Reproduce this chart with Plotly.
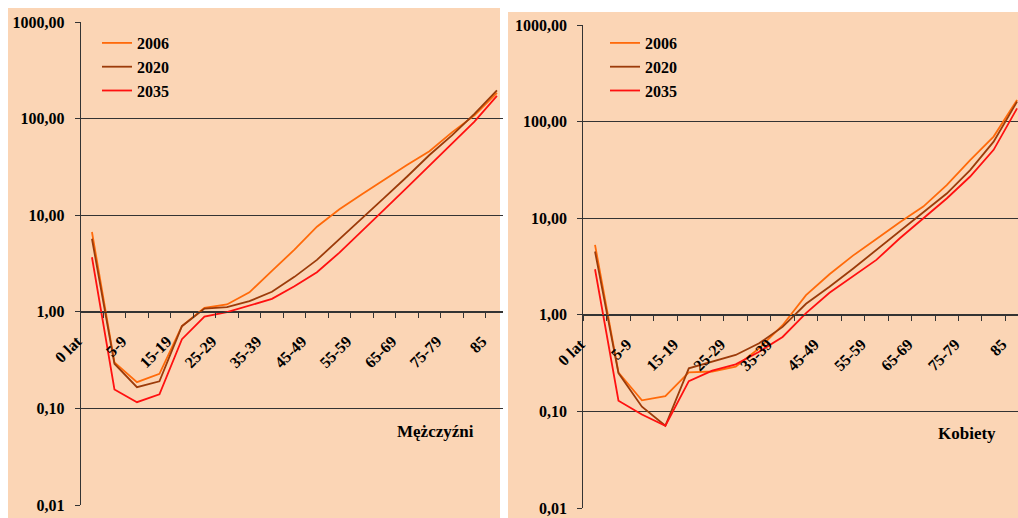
import plotly.graph_objects as go

W, H = 1018, 518

age_groups = ["0 lat", "1-4", "5-9", "10-14", "15-19", "20-24", "25-29", "30-34",
              "35-39", "40-44", "45-49", "50-54", "55-59", "60-64", "65-69",
              "70-74", "75-79", "80-84", "85"]
# every second age group carries a printed label
age_labels = [a if i % 2 == 0 else "" for i, a in enumerate(age_groups)]

years = ["2006", "2020", "2035"]
year_colors = ["#FF6A0A", "#9C3B0A", "#FF1010"]

# death rates per age group, men
men_2006 = [6.7, 0.30, 0.187, 0.228, 0.71, 1.10, 1.19, 1.59, 2.65, 4.4, 7.6,
            11.5, 16.5, 23.5, 33.0, 46.0, 72.0, 108.0, 185.0]
men_2020 = [5.7, 0.29, 0.166, 0.191, 0.71, 1.08, 1.12, 1.29, 1.61, 2.30, 3.45,
            5.7, 9.4, 15.2, 25.0, 42.0, 67.0, 112.0, 196.0]
men_2035 = [3.67, 0.157, 0.116, 0.140, 0.52, 0.89, 0.99, 1.16, 1.36, 1.84, 2.57,
            4.1, 6.8, 11.5, 19.3, 32.6, 55.0, 93.0, 172.0]

# death rates per age group, women
women_2006 = [5.3, 0.253, 0.130, 0.144, 0.253, 0.259, 0.29, 0.45, 0.78, 1.6, 2.63,
              4.1, 6.1, 9.1, 13.2, 22.0, 40.0, 70.0, 167.0]
women_2020 = [4.52, 0.249, 0.112, 0.071, 0.279, 0.327, 0.384, 0.507, 0.75, 1.30, 1.95,
              3.0, 4.7, 7.4, 11.5, 18.0, 31.5, 62.0, 161.0]
women_2035 = [2.96, 0.129, 0.093, 0.071, 0.206, 0.264, 0.307, 0.415, 0.59, 1.04, 1.69,
              2.52, 3.7, 6.2, 10.0, 16.0, 27.0, 51.0, 137.0]

y_ticks = [0.01, 0.1, 1, 10, 100, 1000]
y_tick_text = ["0,01", "0,10", "1,00", "10,00", "100,00", "1000,00"]

panel_titles = ["Mężczyźni", "Kobiety"]

PEACH = "#FBD5B5"
GRID = "#333333"
FONT = "Liberation Serif"

fig = go.Figure()

series = [(men_2006, men_2020, men_2035), (women_2006, women_2020, women_2035)]
for p, vals in enumerate(series):
    xa = "x" if p == 0 else "x2"
    ya = "y" if p == 0 else "y2"
    lg = "legend" if p == 0 else "legend2"
    for name, col, v in zip(years, year_colors, vals):
        fig.add_trace(go.Scatter(
            x=age_groups, y=v, name=name, mode="lines",
            line=dict(color=col, width=1.8),
            xaxis=xa, yaxis=ya, legend=lg, showlegend=True,
        ))

# panel geometry in pixels
left_x = (80.7, 503.0)
right_x = (583.3, 1018.0)
left_y = (22.0, 505.0)     # top / bottom of the log range
right_y = (25.0, 508.0)


def px_x(v):
    return v / W


def px_y(v):
    return 1 - v / H


def xaxis_cfg(domain, y_dom, rng):
    # category axis drawn across the 1,00 level of the log scale
    pos = y_dom[0] + (y_dom[1] - y_dom[0]) * 0.4
    return dict(
        domain=domain, type="category", categoryorder="array",
        categoryarray=age_groups, range=rng,
        tickmode="array", tickvals=age_groups, ticktext=age_labels,
        tickson="boundaries", ticks="outside", ticklen=5, tickcolor=GRID,
        tickangle=-45, ticklabelstandoff=13, ticklabelshift=-15,
        showgrid=False, showline=True, linecolor=GRID,
        linewidth=1, anchor="free", position=pos, zeroline=False,
        automargin=False,
        tickfont=dict(family=FONT, size=16, color="black", weight="bold"),
        fixedrange=True,
    )


def yaxis_cfg(domain, anchor):
    return dict(
        domain=domain, type="log", range=[-2, 3], anchor=anchor,
        tickmode="array", tickvals=y_ticks, ticktext=y_tick_text,
        ticks="outside", ticklen=5, tickcolor=GRID, ticklabelstandoff=7,
        showgrid=True, gridcolor=GRID, gridwidth=1,
        showline=True, linecolor=GRID, linewidth=1.2,
        automargin=False,
        tickfont=dict(family=FONT, size=16, color="black", weight="bold"),
        fixedrange=True,
    )


ly_dom = [px_y(left_y[1]), px_y(left_y[0])]
ry_dom = [px_y(right_y[1]), px_y(right_y[0])]

legend_font = dict(family=FONT, size=16, color="black", weight="bold")

fig.update_layout(
    width=W, height=H,
    margin=dict(l=0, r=0, t=0, b=0, autoexpand=False),
    paper_bgcolor="white",
    plot_bgcolor="rgba(0,0,0,0)",
    xaxis=xaxis_cfg([px_x(left_x[0]), px_x(left_x[1])], ly_dom, [-0.5, 18.27]),
    yaxis=yaxis_cfg(ly_dom, "x"),
    xaxis2=xaxis_cfg([px_x(right_x[0]), px_x(right_x[1])], ry_dom, [-0.5, 18.04]),
    yaxis2=yaxis_cfg(ry_dom, "x2"),
    legend=dict(x=px_x(97), y=px_y(26), xanchor="left", yanchor="top",
                bgcolor="rgba(0,0,0,0)", font=legend_font),
    legend2=dict(x=px_x(605), y=px_y(26), xanchor="left", yanchor="top",
                 bgcolor="rgba(0,0,0,0)", font=legend_font),
    shapes=[
        dict(type="rect", xref="paper", yref="paper", layer="below",
             x0=px_x(8), x1=px_x(500), y0=0, y1=px_y(8),
             fillcolor=PEACH, line=dict(width=0)),
        dict(type="rect", xref="paper", yref="paper", layer="below",
             x0=px_x(508), x1=1, y0=0, y1=px_y(12),
             fillcolor=PEACH, line=dict(width=0)),
    ],
    annotations=[
        dict(text=panel_titles[0], xref="paper", yref="paper",
             x=px_x(435), y=px_y(431), showarrow=False,
             xanchor="center", yanchor="middle",
             font=dict(family=FONT, size=17, color="black", weight="bold")),
        dict(text=panel_titles[1], xref="paper", yref="paper",
             x=px_x(967), y=px_y(433), showarrow=False,
             xanchor="center", yanchor="middle",
             font=dict(family=FONT, size=17, color="black", weight="bold")),
    ],
)

fig.write_html("out.html")
